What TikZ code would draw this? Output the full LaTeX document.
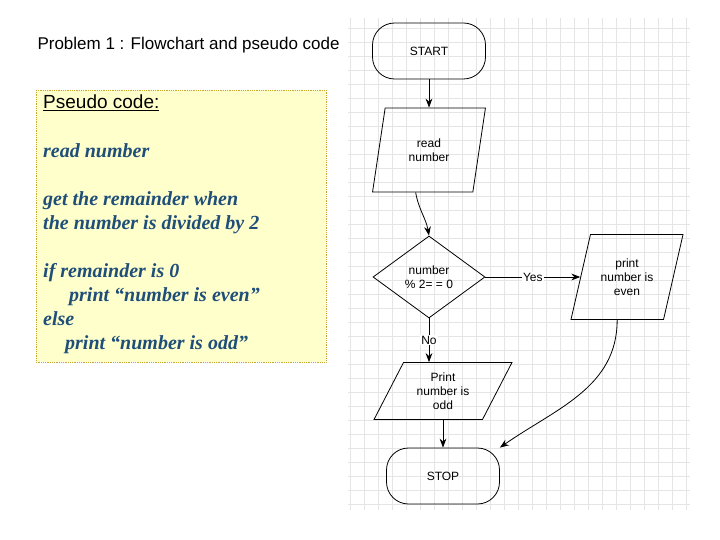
\documentclass[tikz,border=0pt]{standalone}
\usepackage{fontspec}
\setmainfont{Liberation Sans}
\newfontfamily\codefont{Liberation Serif}
\usetikzlibrary{shapes.geometric, arrows.meta}
\definecolor{codeblue}{HTML}{1F4E79}
\definecolor{notefill}{HTML}{FFFFCC}
\definecolor{noteedge}{HTML}{C8A830}

\tikzset{
  term/.style={draw, thick, rounded corners=22pt, minimum width=113pt, minimum height=56pt, font=\fontsize{12}{14}\selectfont},
  io/.style={draw, thick, trapezium, trapezium stretches=true, align=center, font=\fontsize{12}{14}\selectfont},
  decide/.style={draw, thick, diamond, aspect=1.35, minimum width=112pt, minimum height=82pt, inner sep=0pt, align=center, font=\fontsize{12}{14}\selectfont},
  flow/.style={thick, -{Stealth[length=9pt]}},
  lbl/.style={fill=white, inner sep=1pt, font=\fontsize{12}{14}\selectfont},
  codeline/.style={anchor=north west, inner sep=0pt, text=codeblue, font=\codefont\bfseries\itshape\fontsize{20}{22}\selectfont}
}

\begin{document}
\begin{tikzpicture}[x=1pt,y=-1pt]
\useasboundingbox (0,0) rectangle (720,540);

\draw[black!10] (348,18) grid[step=14pt] (690,510);

\node[anchor=west, font=\fontsize{17}{19}\selectfont] (title) at (34,45) {Problem 1 : Flowchart and pseudo code};

\draw[noteedge, densely dotted, thick, fill=notefill] (36,90) rectangle (326,362);
\node[anchor=north west, inner sep=0pt, font=\fontsize{19}{21}\selectfont] (head) at (43,95) {\underline{Pseudo code:}};
\node[codeline] (c1) at (43,143) {read number};
\node[codeline] (c2) at (43,191) {get the remainder when};
\node[codeline] (c3) at (43,215) {the number is divided by 2};
\node[codeline] (c4) at (43,263) {if remainder is 0};
\node[codeline] (c5) at (69,287) {print “number is even”};
\node[codeline] (c6) at (43,311) {else};
\node[codeline] (c7) at (65,335) {print “number is odd”};

\node[term] (start) at (429,51) {START};
\node[io, trapezium left angle=77, trapezium right angle=103, minimum width=113pt, minimum height=84pt] (read) at (429,150) {read\\number};
\node[decide] (test) at (429,277) {number\\\% 2= = 0};
\node[io, trapezium left angle=70, trapezium right angle=110, minimum width=113pt, minimum height=85pt] (even) at (627,277) {print\\number is\\even};
\node[io, trapezium left angle=63, trapezium right angle=117, minimum width=138pt, minimum height=57pt] (odd) at (443,391) {Print\\number is\\odd};
\node[term] (stop) at (443,476) {STOP};

\draw[flow] (start) -- (read);
\draw[flow] (read.bottom side) ++(-7,0) coordinate (r0) to[out=-80,in=100] (test.north);
\draw[flow] (test.south) -- node[lbl] {No} (test.south |- odd.top side);
\draw[flow] (test.east) -- node[lbl] {Yes} (even.west |- test.east);
\draw[flow] (stop.north |- odd.bottom side) -- (stop.north);
\draw[flow] (even.bottom side) to[out=-90,in=35] (stop.north east);
\end{tikzpicture}
\end{document}
